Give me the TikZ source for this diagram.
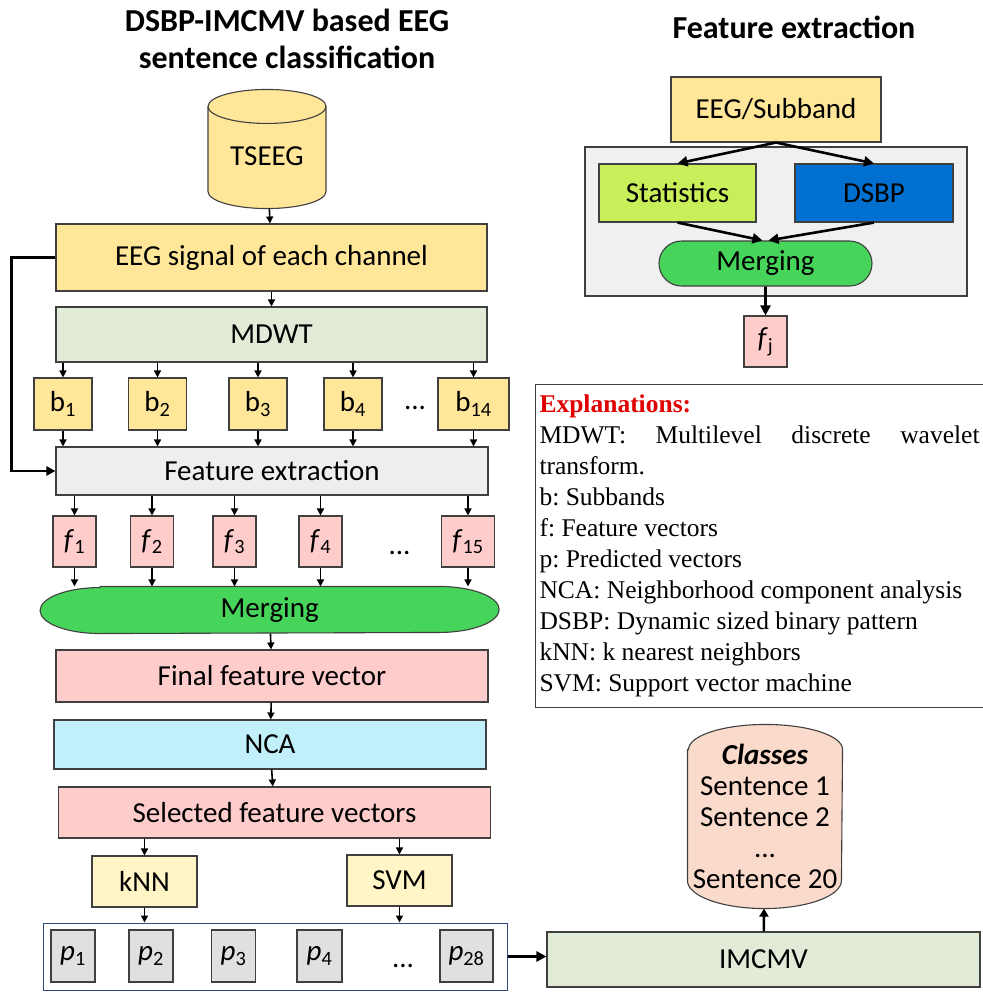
\documentclass[tikz,border=0pt]{standalone}
\usepackage{fontspec}
\setmainfont{Carlito}
\newfontfamily\explfont{Liberation Serif}
\usetikzlibrary{arrows.meta,shapes.misc,backgrounds}

\definecolor{boxline}{HTML}{404040}
\definecolor{eegorange}{HTML}{FFE699}
\definecolor{sage}{HTML}{E2EBD7}
\definecolor{fegray}{HTML}{EEEEEE}
\definecolor{featpink}{HTML}{FFCCCC}
\definecolor{mergegreen}{HTML}{47D45A}
\definecolor{ncacyan}{HTML}{C2F0FA}
\definecolor{clfyellow}{HTML}{FFF5C6}
\definecolor{predgray}{HTML}{E0E0E0}
\definecolor{predframe}{HTML}{2E4A7A}
\definecolor{statlime}{HTML}{C8EE5A}
\definecolor{dsbpblue}{HTML}{0070D0}
\definecolor{groupgray}{HTML}{F0F0F0}
\definecolor{classpeach}{HTML}{FADACB}
\definecolor{explred}{HTML}{E00000}

\tikzset{
    box/.style={draw=boxline, line width=1.1pt, inner sep=0pt, font=\fontsize{29}{31}\selectfont},
    band/.style={box, fill=eegorange, minimum height=52pt},
    feat/.style={box, fill=featpink, minimum height=51pt},
    pred/.style={box, fill=predgray, minimum height=52pt},
    arr/.style={-{Triangle[length=7pt,width=7pt]}, line width=1.6pt},
    bigarr/.style={-{Triangle[length=10pt,width=10pt]}, line width=2.6pt},
    title/.style={font=\fontsize{32}{37}\selectfont\bfseries, align=center, inner sep=0pt},
}

\begin{document}
\begin{tikzpicture}[x=1pt, y=-1pt]

    % the frame
    \useasboundingbox (0,0) rectangle (983,994);

    % titles
    \node[title] (maintitle) at (287,39) {DSBP-IMCMV based EEG\\sentence classification};
    \node[title, anchor=base] (fetitle) at (794,38) {Feature extraction};

    % the main flow
    \node[box, draw=none, minimum width=118pt, minimum height=104pt] (tseeg) at (267,156) {TSEEG};
    \node[box, fill=eegorange, minimum width=431pt, minimum height=67pt] (eeg) at (271.5,257.5) {EEG signal of each channel};
    \node[box, fill=sage, minimum width=431pt, minimum height=55pt] (mdwt) at (271.5,334.5) {MDWT};
    \node[box, fill=fegray, minimum width=432pt, minimum height=48pt] (fe) at (272,471) {Feature extraction};
    \node[box, draw=none, minimum width=458pt, minimum height=46pt] (merge) at (269.6,610) {Merging};
    \node[box, fill=featpink, minimum width=432pt, minimum height=52pt] (final) at (272,676) {Final feature vector};
    \node[box, fill=ncacyan, minimum width=432pt, minimum height=49pt] (nca) at (270,744.5) {NCA};
    \node[box, fill=featpink, minimum width=432pt, minimum height=51pt] (sel) at (274.5,812.5) {Selected feature vectors};
    \node[box, fill=clfyellow, minimum width=105pt, minimum height=51pt] (knn) at (144.5,881.5) {kNN};
    \node[box, fill=clfyellow, minimum width=105pt, minimum height=51pt] (svm) at (399.5,880.5) {SVM};
    \node[draw=predframe, line width=1pt, fill=white, minimum width=464pt, minimum height=67pt, inner sep=0pt] (pbox) at (275,956.5) {};

    \draw[arr] (tseeg) -- (eeg);
    \draw[arr] (eeg) -- (mdwt);
    \draw[bigarr, -{Triangle[length=9pt,width=9pt]}] (eeg.west) -- ++(-44,0) |- (fe.west);

    % subbands
    \foreach \x/\n/\w in {63/1/58, 157.5/2/58, 258/3/58, 353/4/58, 473.5/14/71} {
        \node[band, minimum width=\w pt] (b\n) at (\x,404) {b\textsubscript{\n}};
        \draw[arr] (b\n.north |- mdwt.south) -- (b\n);
        \draw[arr] (b\n) -- (b\n |- fe.north);
    }
    \node[box, draw=none] (bdots) at (415,408) {...};

    % feature vectors
    \foreach \x/\n/\w in {74.5/1/43, 152/2/43, 234.5/3/43, 320.5/4/43, 468/15/52.5} {
        \node[feat, minimum width=\w pt] (f\n) at (\x,541.5) {\textit{f}\textsubscript{\n}};
        \draw[arr] (f\n.north |- fe.south) -- (f\n);
        \draw[arr] (f\n) -- (f\n |- merge.north);
    }
    \node[box, draw=none] (fdots) at (399.5,553) {...};

    \draw[arr] (merge) -- (final);
    \draw[arr] (final) -- (nca);
    \draw[arr] (nca) -- (sel);
    \draw[arr] (knn.north |- sel.south) -- (knn);
    \draw[arr] (svm.north |- sel.south) -- (svm);
    \draw[arr] (knn) -- (knn |- pbox.north);
    \draw[arr] (svm) -- (svm |- pbox.north);

    % predicted vectors
    \foreach \x/\n/\w in {73/1/44, 151/2/44, 233.5/3/44, 319.5/4/45, 466.5/28/53} {
        \node[pred, minimum width=\w pt] (p\n) at (\x,956) {\textit{p}\textsubscript{\n}};
    }
    \node[box, draw=none] (pdots) at (403,966) {...};

    % voting and classes
    \node[box, fill=sage, minimum width=433pt, minimum height=55pt] (imcmv) at (763.5,959.5) {IMCMV};
    \node[box, draw=none, align=center, minimum width=154pt, minimum height=183pt] (classes) at (765,816.5)
        {\textbf{\textit{Classes}}\\Sentence 1\\Sentence 2\\...\\Sentence 20};
    \draw[bigarr] (pbox.east) -- (pbox.east -| imcmv.west);
    \draw[bigarr, -{Triangle[length=8pt,width=9pt]}] (imcmv) -- (classes);

    % feature extraction detail
    \node[box, fill=eegorange, minimum width=210pt, minimum height=65pt] (sub) at (776,109.5) {EEG/Subband};
    \node[box, fill=groupgray, minimum width=382pt, minimum height=149pt] (fegroup) at (776,221.5) {};
    \node[box, fill=statlime, minimum width=157pt, minimum height=58pt] (stat) at (677.5,193) {Statistics};
    \node[box, fill=dsbpblue, minimum width=158pt, minimum height=58pt] (dsbp) at (874,193) {DSBP};
    \node[box, fill=mergegreen, rounded rectangle, minimum width=213pt, minimum height=45pt] (merge2) at (765.5,263.5) {Merging};
    \node[box, fill=featpink, minimum width=43pt, minimum height=51pt] (fj) at (765.5,341.5) {\textit{f}\textsubscript{j}};
    \draw[bigarr] (sub.south) -- (stat.north);
    \draw[bigarr] (sub.south) -- (dsbp.north);
    \draw[bigarr] (stat.south) -- ([xshift=-3pt]merge2.north);
    \draw[bigarr] (dsbp.south) -- ([xshift=3pt]merge2.north);
    \draw[bigarr] (merge2) -- (fj);

    % explanations
    \node[draw=boxline, line width=1.1pt, anchor=north west, text width=440pt, align=justify,
          inner xsep=4pt, inner ysep=0pt, minimum height=323pt,
          font=\explfont\fontsize{25.5}{31}\selectfont] (expl) at (535,384)
        {\tolerance=10000\relax \frenchspacing
         {\color{explred}\bfseries Explanations:}\\
         MDWT: Multilevel discrete wavelet \mbox{transform.}\\
         b: Subbands\\
         f: Feature vectors\\
         p: Predicted vectors\\
         NCA: Neighborhood component analysis\\
         DSBP: Dynamic sized binary pattern\\
         kNN: k nearest neighbors\\
         SVM: Support vector machine};

    % shapes behind the text
    \begin{scope}[on background layer]
        \fill[white] (0,0) rectangle (983,994);
        \filldraw[fill=eegorange, draw=boxline, line width=1.1pt]
            ([xshift=-59pt,yshift=-3pt]tseeg.north) -- ([xshift=-59pt,yshift=17pt]tseeg.south)
            arc[start angle=180, end angle=360, x radius=59pt, y radius=17pt]
            -- ([xshift=59pt,yshift=-3pt]tseeg.north)
            arc[start angle=0, end angle=180, x radius=59pt, y radius=17pt] -- cycle;
        \draw[boxline, line width=1.1pt] ([xshift=-59pt,yshift=-3pt]tseeg.north)
            arc[start angle=180, end angle=360, x radius=59pt, y radius=17pt];
        \filldraw[fill=mergegreen, draw=boxline, line width=1.1pt]
            ([xshift=60pt]merge.north west) -- ([xshift=-60pt]merge.north east)
            arc[start angle=90, end angle=-90, x radius=60pt, y radius=23pt]
            -- ([xshift=60pt]merge.south west)
            arc[start angle=270, end angle=90, x radius=60pt, y radius=23pt] -- cycle;
        \filldraw[fill=classpeach, draw=boxline, line width=1.1pt]
            ([yshift=-25pt]classes.north west) -- ([yshift=28pt]classes.south west)
            arc[start angle=180, end angle=360, x radius=77pt, y radius=28pt]
            -- ([yshift=-25pt]classes.north east)
            arc[start angle=0, end angle=180, x radius=77pt, y radius=25pt] -- cycle;
    \end{scope}

\end{tikzpicture}
\end{document}
